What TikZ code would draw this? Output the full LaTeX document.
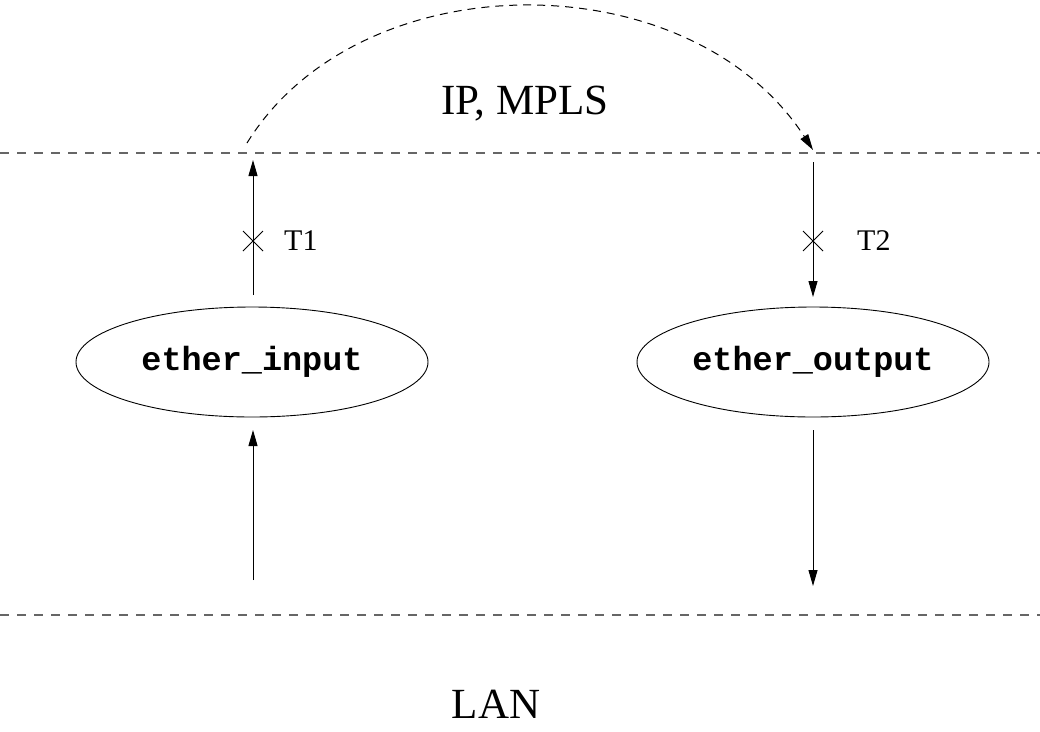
\documentclass[tikz,border=0pt]{standalone}
\usepackage{fontspec}
\setmainfont{Liberation Serif}
\newfontfamily\monob{Liberation Mono}
\usetikzlibrary{arrows.meta,shapes.geometric,calc}
\begin{document}
\begin{tikzpicture}[x=1pt,y=-1pt,
  layer/.style={draw=black!60,line width=1.5pt,dash pattern=on 9pt off 8pt},
  proc/.style={draw,ellipse,line width=0.9pt,minimum width=352pt,minimum height=110pt,inner sep=0pt,font=\monob\bfseries\fontsize{33.5}{33.5}\selectfont},
  flow/.style={line width=1pt,-{Triangle[length=16pt,width=9pt]}},
  bigtxt/.style={font=\fontsize{43}{43}\selectfont,inner sep=0pt},
  smalltxt/.style={font=\fontsize{30}{30}\selectfont,inner sep=0pt,anchor=west},
  crossmark/.style={line width=1pt}]
\useasboundingbox (0,0) rectangle (1040,731);
% layers
\coordinate (tl) at (0,153); \coordinate (tr) at (1040,153);
\coordinate (bl) at (0,615); \coordinate (br) at (1040,615);
\draw[layer] (tl) -- (tr);
\draw[layer] (bl) -- (br);
\node[bigtxt] (ip) at (525,104) {IP, MPLS};
\node[bigtxt] (lan) at (496,704) {LAN};
% processes
\node[proc] (in) at (252,362) {ether\_input};
\node[proc] (out) at (813,362) {ether\_output};
% endpoints
\coordinate (inTop) at (253,295); \coordinate (inTip) at (253,160);
\coordinate (inBot) at (253,580); \coordinate (inBotTip) at (253,430);
\coordinate (outTop) at (813,162); \coordinate (outTip) at (813,297);
\coordinate (outBot) at (813,430); \coordinate (outBotTip) at (813,586);
\draw[flow] (inTop) -- (inTip);
\draw[flow] (outTop) -- (outTip);
\draw[flow] (inBot) -- (inBotTip);
\draw[flow] (outBot) -- (outBotTip);
% crosses
\coordinate (c1) at (253,241); \coordinate (c2) at (813,241);
\draw[crossmark] ($(c1)+(-10,-10)$) -- ($(c1)+(10,10)$) ($(c1)+(-10,10)$) -- ($(c1)+(10,-10)$);
\draw[crossmark] ($(c2)+(-10,-10)$) -- ($(c2)+(10,10)$) ($(c2)+(-10,10)$) -- ($(c2)+(10,-10)$);
\node[smalltxt] (t1) at (284,241) {T1};
\node[smalltxt] (t2) at (857,241) {T2};
% tunnel curve
\coordinate (cs) at (247,143); \coordinate (ce) at (813,150);
\draw[line width=1pt,dash pattern=on 8pt off 6pt,-{Triangle[length=16pt,width=9pt]}]
  (cs) .. controls (360,-40) and (690,-40) .. (ce);
\end{tikzpicture}
\end{document}
